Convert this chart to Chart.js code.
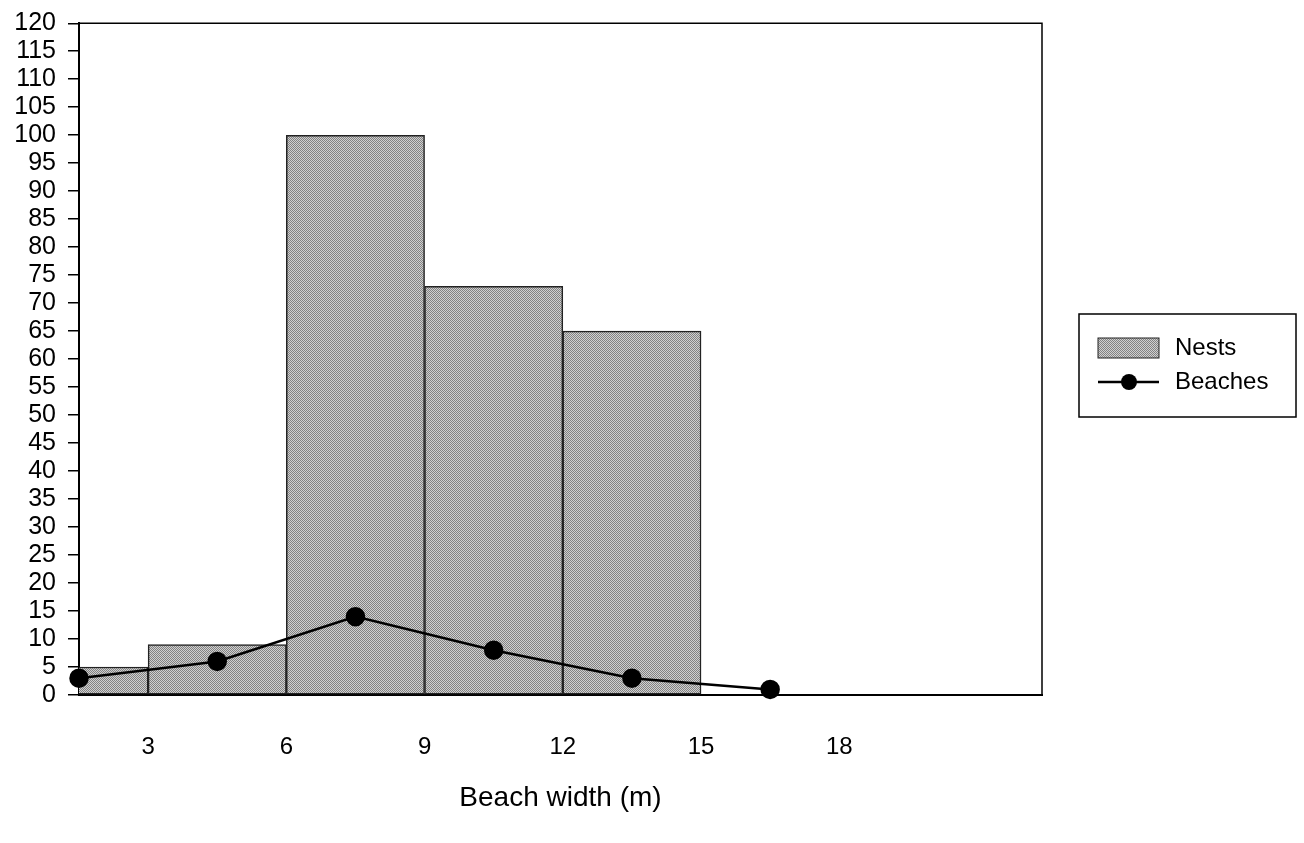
<!DOCTYPE html>
<html>
<head>
<meta charset="utf-8">
<script src="https://cdn.jsdelivr.net/npm/chart.js@4"></script>
<style>
  html, body { margin: 0; padding: 0; background: #fff; }
  canvas { display: block; }
</style>
</head>
<body>
<canvas id="chart" width="1304" height="843"></canvas>
<script>
// bin centres (beach width, m) and tick labels
const binCenters = [1.5, 4.5, 7.5, 10.5, 13.5, 16.5];
const nests = [5, 9, 100, 73, 65, 0];
const beaches = [3, 6, 14, 8, 3, 1];
const xTicks = [3, 6, 9, 12, 15, 18];

const FONT = "'Liberation Sans', Arial, sans-serif";

// halftone-ish grey fill for the bars
const tile = document.createElement('canvas');
tile.width = 4;
tile.height = 4;
const tctx = tile.getContext('2d');
tctx.fillStyle = '#d0d0d0';
tctx.fillRect(0, 0, 4, 4);
tctx.fillStyle = '#828282';
for (let y = 0; y < 4; y++) {
  for (let x = 0; x < 4; x++) {
    if ((x + y) % 2 === 0) tctx.fillRect(x, y, 1, 1);
  }
}
const ctx = document.getElementById('chart').getContext('2d');
const barFill = ctx.createPattern(tile, 'repeat');

const frame = {
  id: 'frame',
  beforeDatasetsDraw(chart) {
    const { ctx, chartArea: a } = chart;
    ctx.save();
    ctx.strokeStyle = '#000';
    ctx.lineWidth = 1.5;
    ctx.beginPath();
    ctx.moveTo(a.left, a.top);
    ctx.lineTo(a.right, a.top);
    ctx.lineTo(a.right, a.bottom);
    ctx.stroke();
    ctx.restore();
  }
};

const boxLegend = {
  id: 'boxLegend',
  afterDraw(chart) {
    const { ctx } = chart;
    const ds = chart.data.datasets;
    ctx.save();
    ctx.strokeStyle = '#000';
    ctx.lineWidth = 1.5;
    ctx.strokeRect(1079, 314, 217, 103);

    // Nests swatch
    ctx.fillStyle = barFill;
    ctx.fillRect(1098, 338, 61, 20);
    ctx.lineWidth = 1;
    ctx.strokeStyle = '#222';
    ctx.strokeRect(1098, 338, 61, 20);

    // Beaches line + marker
    ctx.strokeStyle = '#000';
    ctx.lineWidth = 2.5;
    ctx.beginPath();
    ctx.moveTo(1098, 382);
    ctx.lineTo(1159, 382);
    ctx.stroke();
    ctx.fillStyle = '#000';
    ctx.beginPath();
    ctx.arc(1129, 382, 8, 0, Math.PI * 2);
    ctx.fill();

    ctx.font = '24px ' + FONT;
    ctx.textBaseline = 'middle';
    ctx.textAlign = 'left';
    ctx.fillText(ds[0].label, 1175, 348);
    ctx.fillText(ds[1].label, 1175, 382);
    ctx.restore();
  }
};

new Chart(ctx, {
  data: {
    datasets: [
      {
        type: 'bar',
        label: 'Nests',
        data: binCenters.map((x, i) => ({ x: x, y: nests[i] })),
        backgroundColor: barFill,
        borderColor: '#222',
        borderWidth: 1.5,
        borderSkipped: false,
        barPercentage: 1,
        categoryPercentage: 1,
        clip: 0,
        order: 2
      },
      {
        type: 'line',
        label: 'Beaches',
        data: binCenters.map((x, i) => ({ x: x, y: beaches[i] })),
        borderColor: '#000',
        borderWidth: 2.5,
        pointRadius: 8.5,
        pointBackgroundColor: '#000',
        pointBorderColor: '#000',
        tension: 0,
        clip: false,
        order: 1
      }
    ]
  },
  options: {
    responsive: false,
    animation: false,
    layout: { padding: { top: 16, right: 262, bottom: 0, left: 0 } },
    plugins: {
      legend: { display: false },
      tooltip: { enabled: false }
    },
    scales: {
      x: {
        type: 'linear',
        offset: false,
        min: 1.5,
        max: 22.4,
        afterBuildTicks: (scale) => {
          scale.ticks = xTicks.map(v => ({ value: v }));
        },
        afterFit: (scale) => { scale.height = 148; },
        grid: { display: false, drawTicks: false },
        border: { display: true, color: '#000', width: 2 },
        ticks: {
          color: '#000',
          padding: 38,
          maxRotation: 0,
          autoSkip: false,
          font: { family: FONT, size: 24 }
        },
        title: {
          display: true,
          text: 'Beach width (m)',
          color: '#000',
          font: { family: FONT, size: 28 },
          padding: { top: 0, bottom: 28 }
        }
      },
      y: {
        min: 0,
        max: 120,
        afterFit: (scale) => { scale.width = 79; },
        grid: {
          display: true,
          drawOnChartArea: false,
          drawTicks: true,
          tickLength: 11,
          color: '#000',
          lineWidth: 1.5
        },
        border: { display: true, color: '#000', width: 2 },
        ticks: {
          stepSize: 5,
          autoSkip: false,
          color: '#000',
          padding: 12,
          font: { family: FONT, size: 25, lineHeight: 0.9 }
        }
      }
    }
  },
  plugins: [frame, boxLegend]
});
</script>
</body>
</html>
